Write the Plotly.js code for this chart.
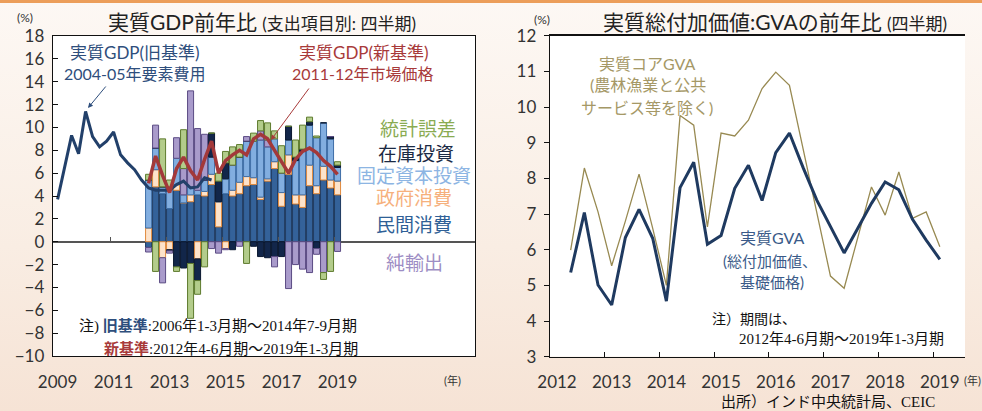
<!DOCTYPE html>
<html><head><meta charset="utf-8">
<script src="https://cdn.plot.ly/plotly-3.0.1.min.js"></script>
<style>
html,body{margin:0;padding:0;}
body{background:linear-gradient(to bottom,#fdf8f4 0%,#f9ede3 60%,#f6e3d5 100%);}
#wrap{position:relative;width:982px;height:411px;}
#topbar{position:absolute;left:0;top:0;width:982px;height:3px;background:#ec9e5a;z-index:5;}
#chart{width:982px;height:411px;}
</style>
</head><body><div id="wrap"><div id="topbar"></div><div id="chart"></div></div>
<script>
// ---------- Left panel data ----------
const oldQuarters = ['2009Q1','2009Q2','2009Q3','2009Q4','2010Q1','2010Q2','2010Q3','2010Q4','2011Q1','2011Q2','2011Q3','2011Q4','2012Q1','2012Q2','2012Q3','2012Q4','2013Q1','2013Q2','2013Q3','2013Q4','2014Q1','2014Q2','2014Q3'];
const oldGDP = [3.7, 6.4, 9.3, 7.7, 11.4, 9.2, 8.3, 8.8, 9.6, 7.6, 6.9, 6.3, 5.4, 4.7, 4.5, 4.5, 4.5, 5.0, 5.3, 4.7, 4.8, 5.6, 5.4];

const newQuarters = ['2012Q2','2012Q3','2012Q4','2013Q1','2013Q2','2013Q3','2013Q4','2014Q1','2014Q2','2014Q3','2014Q4','2015Q1','2015Q2','2015Q3','2015Q4','2016Q1','2016Q2','2016Q3','2016Q4','2017Q1','2017Q2','2017Q3','2017Q4','2018Q1','2018Q2','2018Q3','2018Q4','2019Q1'];
const newGDP = [5.1, 7.5, 5.8, 4.3, 6.4, 7.4, 6.2, 5.4, 7.2, 8.8, 6.0, 7.1, 7.6, 8.0, 7.6, 9.0, 9.4, 9.0, 8.0, 7.0, 6.0, 7.2, 7.9, 8.2, 7.8, 7.1, 6.6, 5.9];

const privCons  = [-0.5, 4.8, 4.2, 2.9, 4.5, 3.4, 3.5, 4.1, 4.0, 5.0, 1.3, 4.2, 4.0, 4.2, 4.9, 5.0, 3.7, 5.3, 6.4, 3.1, 5.9, 3.3, 3.0, 4.9, 4.2, 5.4, 4.7, 4.1];
const govCons   = [1.2, 1.5, -1.4, -0.7, 0.5, 0.0, 0.6, -1.5, 0.4, 0.9, 2.2, -0.6, 0.5, 1.0, 0.8, 0.6, 0.2, 0.2, 0.6, 1.2, 1.7, 0.8, 1.1, 1.8, 0.7, 1.2, 0.7, 1.2];
const fixedInv  = [4.2, 1.9, 0.6, 1.9, 2.3, 0.7, 0.7, 0.4, 1.0, 1.5, 0.0, 1.3, 2.2, 2.2, 3.1, 3.2, 5.0, 2.8, 2.0, 1.7, 1.3, 3.0, 3.8, 3.5, 4.2, 3.8, 3.6, 1.2];
const inventory = [0.0, 0.0, 0.0, -0.1, -2.2, -2.3, -1.9, -1.9, 0.0, 2.1, 1.8, 1.4, -0.7, 0.0, 0.0, -0.4, -1.3, -1.4, -1.3, -1.3, 1.2, 0.3, 0.2, 0.3, -0.6, 0.0, 0.2, 0.2];
const netExport = [-0.4, 2.0, -2.2, -0.2, 1.8, 2.3, 8.4, 5.4, 4.0, -0.6, -1.0, -0.1, 0.0, -0.4, 0.4, 0.0, 0.8, 0.6, -0.9, 0.0, -4.1, -2.0, -2.4, -2.7, -0.5, -2.7, 0.0, -0.85];
const statDisc  = [0.5, -2.6, 4.2, 0.6, -0.4, 3.4, -4.8, -1.2, -2.2, 0.0, 0.7, 1.0, 1.6, 1.1, -1.9, 0.7, 0.9, 1.5, 0.7, 2.4, 0.0, 1.5, 2.1, 0.4, 0.15, -0.6, -2.6, 0.3];

const leftYears = [2009, 2011, 2013, 2015, 2017, 2019];
const leftYearLabels = ['2009', '2011', '2013', '2015', '2017', '2019'];

// ---------- Right panel data ----------
const gvaQuarters = newQuarters;
const realGVA = [5.36, 7.04, 5.01, 4.45, 6.34, 7.13, 6.32, 4.56, 7.74, 8.45, 6.15, 6.4, 7.72, 8.37, 7.38, 8.72, 9.27, 8.3, 7.39, 6.64, 5.91, 6.6, 7.3, 7.9, 7.68, 6.85, 6.27, 5.73];
const coreGVA = [5.99, 8.29, 7.06, 5.55, 6.8, 8.12, 6.6, 5.0, 9.76, 9.49, 6.64, 9.27, 9.19, 9.63, 10.52, 10.98, 10.61, 8.8, 7.05, 5.26, 4.92, 6.36, 7.76, 6.97, 8.18, 6.88, 7.06, 6.08];

const rightYears = [2012, 2013, 2014, 2015, 2016, 2017, 2018, 2019];
const rightYearLabels = ['2012', '2013', '2014', '2015', '2016', '2017', '2018', '2019'];

// quarter label -> decimal year position
const qx = s => parseInt(s.slice(0,4)) + (parseInt(s.slice(5)) - 1) / 4;

const W = 982, H = 411;
const px = x => x / W, py = y => 1 - y / H;

const CJK = 'Lato, "Noto Sans CJK JP", sans-serif';
const SERIF = '"Liberation Serif", "Noto Sans CJK JP", serif';

const xNew = newQuarters.map(qx);
const barW = 0.215;
function barTrace(name, vals, fill, line) {
  return {type: 'bar', name, x: xNew, y: vals, width: barW, xaxis: 'x', yaxis: 'y',
    marker: {color: fill, line: {color: line, width: 1}}, hoverinfo: 'skip'};
}

const traces = [
  barTrace('民間消費', privCons, '#34629a', '#1e3a60'),
  barTrace('政府消費', govCons, '#fde3cb', '#e0893c'),
  barTrace('固定資本投資', fixedInv, '#82aee0', '#3e6ea6'),
  barTrace('在庫投資', inventory, '#12264a', '#0a1830'),
  barTrace('純輸出', netExport, '#a99bcb', '#5b4b84'),
  barTrace('統計誤差', statDisc, '#b3cc8b', '#5e7b2e'),
  {type: 'scatter', mode: 'lines', name: '実質GDP(旧基準)', x: oldQuarters.map(qx), y: oldGDP,
    xaxis: 'x', yaxis: 'y', line: {color: '#22406a', width: 3}, hoverinfo: 'skip'},
  {type: 'scatter', mode: 'lines', name: '実質GDP(新基準)', x: xNew, y: newGDP,
    xaxis: 'x', yaxis: 'y', line: {color: '#a3393a', width: 3.5}, hoverinfo: 'skip'},
  {type: 'scatter', mode: 'lines', x: [], y: [], xaxis: 'x3', yaxis: 'y', showlegend: false, hoverinfo: 'skip'},
  {type: 'scatter', mode: 'lines', name: '実質コアGVA', x: gvaQuarters.map(qx), y: coreGVA,
    xaxis: 'x2', yaxis: 'y2', line: {color: '#988a52', width: 1.3}, hoverinfo: 'skip'},
  {type: 'scatter', mode: 'lines', name: '実質GVA', x: gvaQuarters.map(qx), y: realGVA,
    xaxis: 'x2', yaxis: 'y2', line: {color: '#1f3a60', width: 3}, hoverinfo: 'skip'}
];

function A(text, x, y, size, color, extra) {
  return Object.assign({text, x: px(x), y: py(y), xref: 'paper', yref: 'paper', showarrow: false,
    xanchor: 'center', yanchor: 'middle', font: {size, color, family: CJK}}, extra || {});
}

const navyT = '#2e4e7c', redT = '#a83a3a';
const annotations = [
  A('(%)', 25, 18, 12, '#333'),
  A('実質GDP前年比 <span style="font-size:17px">(支出項目別: 四半期)</span>', 262, 21, 21, '#222'),
  A('実質GDP(旧基準)', 135, 53, 17, navyT),
  A('2004-05年要素費用', 135, 73, 16, navyT),
  {x: px(88), y: py(108), xref: 'paper', yref: 'paper', text: '', showarrow: true, ax: 19, ay: -23,
    arrowcolor: navyT, arrowwidth: 1, arrowhead: 2, arrowsize: 1},
  A('実質GDP(新基準)', 364, 53, 17, redT),
  A('2011-12年市場価格', 363, 73, 16, redT),
  {x: px(271), y: py(140), xref: 'paper', yref: 'paper', text: '', showarrow: true, ax: 39, ay: -53,
    arrowcolor: redT, arrowwidth: 1, arrowhead: 2, arrowsize: 1},
  A('統計誤差', 418, 128, 19, '#8aab52'),
  A('在庫投資', 416, 153, 19, '#1b2a44'),
  A('固定資本投資', 414, 175, 19, '#8db5e3'),
  A('政府消費', 414, 197, 19, '#f6b07c'),
  A('民間消費', 414, 224, 19, '#2f5f96'),
  A('純輸出', 414, 262, 19, '#9d8dc4'),
  A('注) <b><span style="color:#2e4e7c">旧基準</span></b>:2006年1-3月期～2014年7-9月期', 77, 326, 15, '#111',
    {xanchor: 'left', font: {size: 15, color: '#111', family: SERIF}}),
  A('<b><span style="color:#a83a3a">新基準</span></b>:2012年4-6月期～2019年1-3月期', 102, 348, 15, '#111',
    {xanchor: 'left', font: {size: 15, color: '#111', family: SERIF}}),
  A('(年)', 452, 380, 11, '#333'),
  // right
  A('(%)', 542, 19, 12, '#333'),
  A('実質総付加価値:GVAの前年比 <span style="font-size:17px">(四半期)</span>', 775, 21, 21, '#222'),
  A('実質コアGVA', 647, 63, 16, '#a59866'),
  A('(農林漁業と公共', 648, 85, 16, '#a59866'),
  A('サービス等を除く)', 647, 107, 16, '#a59866'),
  A('実質GVA', 772, 238, 16, '#3a5a88'),
  A('(総付加価値、', 770, 261, 15, '#3a5a88'),
  A('基礎価格)', 772, 282, 15, '#3a5a88'),
  A('注）期間は、', 710, 319, 14, '#111', {xanchor: 'left', font: {size: 14, color: '#111', family: SERIF}}),
  A('2012年4-6月期～2019年1-3月期', 737, 339, 15, '#111', {xanchor: 'left', font: {size: 15, color: '#111', family: SERIF}}),
  A('(年)', 972, 380, 11, '#333'),
  A('出所）インド中央統計局、CEIC', 828, 402, 15, '#111', {font: {size: 15, color: '#111', family: SERIF}})
];

const tickFont = {size: 17, color: '#333', family: CJK};
const layout = {
  width: W, height: H,
  margin: {l: 0, r: 0, t: 0, b: 0},
  paper_bgcolor: 'rgba(0,0,0,0)', plot_bgcolor: '#ffffff',
  showlegend: false, barmode: 'relative', bargap: 0,
  font: {family: CJK},
  xaxis: {domain: [px(53), px(475)], range: [2008.836, 2023.91], anchor: 'y',
    tickmode: 'array', tickvals: leftYears, ticktext: leftYearLabels, ticks: '',
    tickfont: tickFont, ticklabelstandoff: 10,
    showline: true, mirror: true, linecolor: '#111', linewidth: 1.3, showgrid: false, zeroline: false},
  xaxis3: {overlaying: 'x', anchor: 'free', position: py(242), range: [2008.836, 2023.91],
    tickmode: 'array', tickvals: leftYears.slice(1).map(y => y - 0.125), ticks: 'inside', ticklen: 5,
    tickcolor: '#555', showticklabels: false, showline: false, showgrid: false, zeroline: false},
  yaxis: {domain: [py(356), py(36)], range: [-10, 18], anchor: 'x', dtick: 2, tick0: -10,
    ticks: 'inside', ticklen: 5, tickcolor: '#111', tickfont: tickFont, ticklabelstandoff: 4,
    showline: true, mirror: true, linecolor: '#111', linewidth: 1.3, showgrid: false,
    zeroline: true, zerolinecolor: '#555', zerolinewidth: 1.8},
  xaxis2: {domain: [px(550), px(965)], range: [2011.872, 2019.46], anchor: 'y2',
    tickmode: 'array', tickvals: rightYears, ticktext: rightYearLabels, ticks: '',
    tickfont: tickFont, ticklabelstandoff: 10,
    minor: {tickmode: 'array', tickvals: rightYears.slice(1).map(y => y - 0.125), ticks: 'inside', ticklen: 5, tickcolor: '#111'},
    showline: true, mirror: true, linecolor: '#111', linewidth: 1.3, showgrid: false, zeroline: false},
  yaxis2: {domain: [py(356.7), py(35.7)], range: [3, 12], anchor: 'x2', dtick: 1,
    ticks: 'outside', ticklen: 5, tickcolor: '#111', tickfont: tickFont, ticklabelstandoff: 4,
    showline: true, linecolor: '#111', linewidth: 1.3, showgrid: false, zeroline: false},
  annotations
};

Plotly.newPlot('chart', traces, layout, {staticPlot: true, displayModeBar: false});
</script></body></html>
